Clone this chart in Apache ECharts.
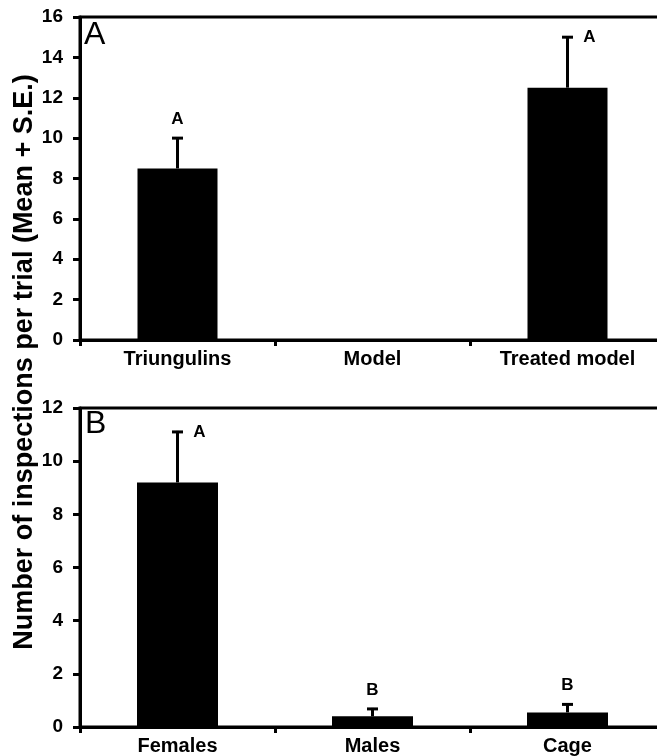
<!DOCTYPE html>
<html>
<head>
<meta charset="utf-8">
<script src="https://cdn.jsdelivr.net/npm/echarts@6/dist/echarts.min.js"></script>
<style>html,body{margin:0;padding:0;background:#fff;}#c{width:657px;height:756px;}</style>
</head>
<body>
<div id="c"></div>
<script>
// Panel A
const categoriesA = ['Triungulins', 'Model', 'Treated model'];
const meansA = [8.5, 0, 12.5];
const seA = [1.5, null, 2.5];
const lettersA = ['A', '', 'A'];
const ticksA = { min: 0, max: 16, interval: 2 };
// Panel B
const categoriesB = ['Females', 'Males', 'Cage'];
const meansB = [9.2, 0.4, 0.55];
const seB = [1.9, 0.28, 0.3];
const lettersB = ['A', 'B', 'B'];
const ticksB = { min: 0, max: 12, interval: 2 };
const yTitle = 'Number of inspections per trial (Mean + S.E.)';

const FONT = '"Liberation Sans", Arial, sans-serif';

function errRender(letters, axisMax) {
  return function (params, api) {
    const i = api.value(0), m = api.value(1), se = api.value(2);
    if (se == null || isNaN(se)) return { type: 'group', children: [] };
    const base = api.coord([i, m]);
    const top = api.coord([i, m + se]);
    const children = [
      { type: 'line', shape: { x1: base[0], y1: base[1], x2: top[0], y2: top[1] - 1 }, style: { stroke: '#000', lineWidth: 3 } },
      { type: 'line', shape: { x1: top[0] - 5.5, y1: top[1], x2: top[0] + 5.5, y2: top[1] }, style: { stroke: '#000', lineWidth: 3 } }
    ];
    const L = letters[params.dataIndex];
    if (L) {
      const right = (m + se) > 0.9 * axisMax;
      children.push({
        type: 'text',
        x: right ? top[0] + 22 : top[0],
        y: right ? top[1] : top[1] - 19,
        style: { text: L, font: 'bold 17px ' + FONT, fill: '#000', textAlign: 'center', textVerticalAlign: 'middle' }
      });
    }
    return { type: 'group', children };
  };
}

function xAxisCfg(cats, gi) {
  return {
    type: 'category', data: cats, gridIndex: gi,
    axisLine: { lineStyle: { color: '#000', width: 3 } },
    axisTick: { show: true, length: 6, lineStyle: { color: '#000', width: 3 } },
    axisLabel: { color: '#000', fontSize: 20, fontWeight: 'bold', fontFamily: FONT, margin: 9 }
  };
}
function yAxisCfg(t, gi) {
  return {
    type: 'value', gridIndex: gi, min: t.min, max: t.max, interval: t.interval,
    splitLine: { show: false },
    axisLine: { show: true, lineStyle: { color: '#000', width: 3 } },
    axisTick: { show: true, length: 7, lineStyle: { color: '#000', width: 3 } },
    axisLabel: { color: '#000', fontSize: 19, fontWeight: 'bold', fontFamily: FONT, margin: 17 }
  };
}

const chart = echarts.init(document.getElementById('c'), null, { renderer: 'canvas' });
chart.setOption({
  backgroundColor: '#fff',
  animation: false,
  grid: [
    { left: 80, top: 17, width: 585, height: 323, outerBoundsMode: 'none', containLabel: false, show: true, borderColor: '#000', borderWidth: 3, backgroundColor: 'transparent' },
    { left: 80, top: 408, width: 585, height: 319, outerBoundsMode: 'none', containLabel: false, show: true, borderColor: '#000', borderWidth: 3, backgroundColor: 'transparent' }
  ],
  xAxis: [xAxisCfg(categoriesA, 0), xAxisCfg(categoriesB, 1)],
  yAxis: [yAxisCfg(ticksA, 0), yAxisCfg(ticksB, 1)],
  series: [
    { type: 'bar', xAxisIndex: 0, yAxisIndex: 0, data: meansA, barWidth: 80, itemStyle: { color: '#000' } },
    { type: 'custom', xAxisIndex: 0, yAxisIndex: 0, renderItem: errRender(lettersA, ticksA.max),
      data: meansA.map((m, i) => [i, m, seA[i]]), z: 5 },
    { type: 'bar', xAxisIndex: 1, yAxisIndex: 1, data: meansB, barWidth: 81, itemStyle: { color: '#000' } },
    { type: 'custom', xAxisIndex: 1, yAxisIndex: 1, renderItem: errRender(lettersB, ticksB.max),
      data: meansB.map((m, i) => [i, m, seB[i]]), z: 5 }
  ],
  graphic: [
    { type: 'text', x: 25, y: 362, rotation: Math.PI / 2,
      style: { text: yTitle, font: 'bold 27px ' + FONT, fill: '#000', textAlign: 'center', textVerticalAlign: 'middle' } },
    { type: 'text', x: 84, y: 19, style: { text: 'A', font: '32px ' + FONT, fill: '#000' } },
    { type: 'text', x: 85, y: 408, style: { text: 'B', font: '32px ' + FONT, fill: '#000' } }
  ]
});
</script>
</body>
</html>
